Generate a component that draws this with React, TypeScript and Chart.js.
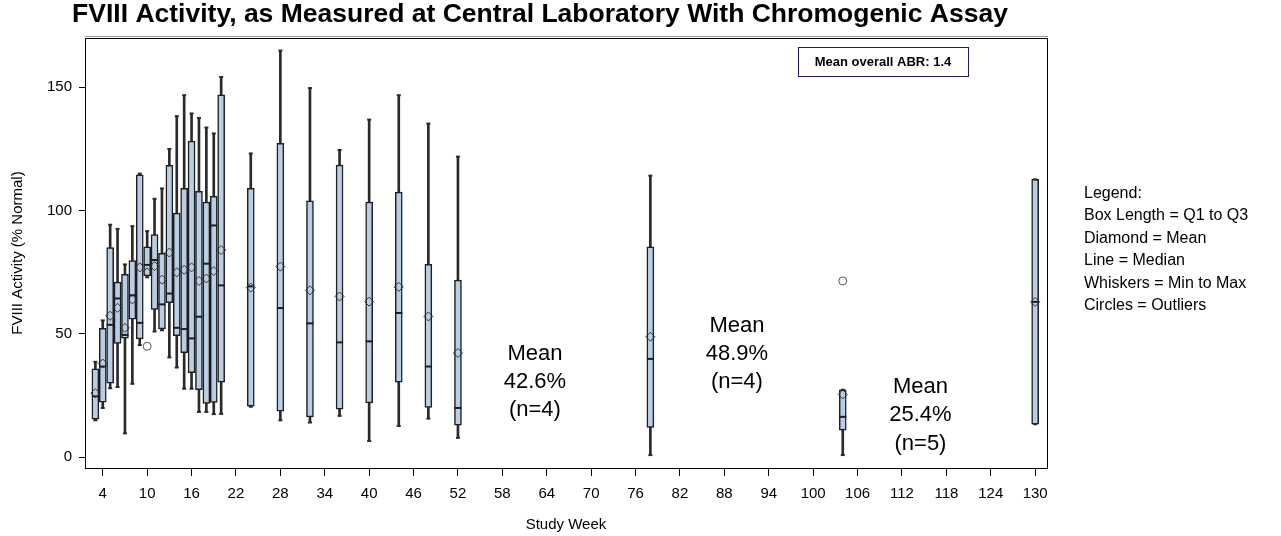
import React, { useEffect, useRef } from "react";
import { Chart, registerables } from "chart.js";

Chart.register(...registerables);

// ---------- data ----------
const weeks = [3, 4, 5, 6, 7, 8, 9, 10, 11, 12, 13, 14, 15, 16, 17, 18, 19, 20, 24, 28, 32, 36, 40, 44, 48, 52, 78, 104, 130];
const minVals = [15, 20, 28, 28.5, 9.7, 29.8, 45.5, 73, 51, 51.5, 40.5, 36.4, 27.8, 27.8, 18.4, 18.4, 17.5, 17.6, 20.5, 15, 14.1, 16.8, 6.6, 12.7, 15.7, 7.9, 0.9, 0.9, 13.4];
const q1Vals = [15.5, 22.4, 30.1, 46.2, 48.3, 56, 48, 73.5, 60, 52, 62.7, 49.3, 42.4, 34.3, 27.4, 21.8, 22.2, 30.5, 20.7, 18.7, 16.4, 19.5, 22, 30.5, 20.2, 13, 12.1, 11, 13.4];
const medianVals = [24.7, 36.8, 53.7, 64.4, 49.6, 65.7, 54.5, 78, 80, 62, 66.4, 52.5, 52, 48.2, 57, 78.5, 94, 69.7, 69.3, 60.5, 54.3, 46.6, 47, 58.5, 36.8, 20, 39.9, 16.4, 63];
const q3Vals = [35.9, 52.3, 85, 71, 74.2, 79.8, 114.5, 85.3, 90.3, 82.7, 118.4, 99, 109, 128.2, 107.8, 103.5, 105.8, 147, 109.1, 127.3, 104, 118.5, 103.5, 107.5, 78.2, 71.8, 85.3, 27.4, 112.7];
const maxVals = [38.7, 55.5, 94.3, 92.6, 78.2, 93.7, 115, 91.7, 104.8, 109, 125, 138.3, 146.8, 139.4, 137.6, 133.7, 131.3, 154.2, 123.2, 164.9, 149.7, 124.6, 136.9, 146.8, 135.3, 121.9, 114.2, 27.4, 112.7];
const meanVals = [26, 38, 57.4, 60.6, 52.5, 64, 77, 75, 77.5, 72, 83, 75, 76, 77, 71.5, 72.5, 75.5, 84, 68.8, 77.3, 67.7, 65.2, 63.1, 69.1, 57.1, 42.3, 48.9, 25.5, 63];
const outlierWeeks = [10, 104];
const outlierVals = [45, 71.5];

const xTickValues = [4, 10, 16, 22, 28, 34, 40, 46, 52, 58, 64, 70, 76, 82, 88, 94, 100, 106, 112, 118, 124, 130];
const yTickValues = [0, 50, 100, 150];

const titleText = "FVIII Activity, as Measured at Central Laboratory With Chromogenic Assay";
const xTitle = "Study Week";
const yTitle = "FVIII Activity (% Normal)";
const abrText = "Mean overall ABR: 1.4";
const legendLines = ["Legend:", "Box Length = Q1 to Q3", "Diamond = Mean", "Line = Median", "Whiskers = Min to Max", "Circles = Outliers"];

const noteLines = [
  ["Mean", "42.6%", "(n=4)"],
  ["Mean", "48.9%", "(n=4)"],
  ["Mean", "25.4%", "(n=5)"],
];
const noteWeeks = [62.4, 89.7, 114.5];
const noteValues = [31.2, 42.5, 17.7];

// ---------- styles ----------
const FONT = "'Liberation Sans', Arial, sans-serif";
const BOX_FILL = "#b9cde5";
const DARK = "#1e1e1e";

const decorPlugin = {
  id: "decor",
  afterDraw(chart: any) {
    const { ctx, chartArea } = chart;
    const { left, right, top, bottom } = chartArea;
    ctx.save();
    // frame
    ctx.strokeStyle = "#9a9a9a";
    ctx.lineWidth = 1;
    ctx.beginPath();
    ctx.moveTo(left, top - 1.5);
    ctx.lineTo(right + 1, top - 1.5);
    ctx.stroke();
    ctx.strokeStyle = "#000";
    ctx.lineWidth = 1;
    ctx.strokeRect(left + 0.5, top + 0.5, right - left, bottom - top);

    // title
    ctx.fillStyle = "#000";
    ctx.font = `bold 26.5px ${FONT}`;
    ctx.textAlign = "center";
    ctx.textBaseline = "middle";
    ctx.fillText(titleText, 540, 15);

    // ABR box
    const bx = right - 249;
    const by = top + 9;
    ctx.fillStyle = "#fff";
    ctx.fillRect(bx, by, 170, 29);
    ctx.strokeStyle = "#1a1a66";
    ctx.lineWidth = 1;
    ctx.strokeRect(bx + 0.5, by + 0.5, 170, 29);
    ctx.fillStyle = "#000";
    ctx.font = `bold 13px ${FONT}`;
    ctx.fillText(abrText, bx + 85, by + 15);

    // legend text
    ctx.textAlign = "left";
    ctx.font = `16px ${FONT}`;
    legendLines.forEach((t, i) => {
      ctx.fillText(t, right + 37, 193.5 + i * 22.4);
    });

    // mean annotations
    const xs = chart.scales.x;
    const ys = chart.scales.y;
    ctx.textAlign = "center";
    ctx.font = `22px ${FONT}`;
    noteLines.forEach((lines, k) => {
      const cx = xs.getPixelForValue(noteWeeks[k]);
      const cy = ys.getPixelForValue(noteValues[k]);
      lines.forEach((t, j) => {
        ctx.fillText(t, cx, cy + 1.5 + (j - 1) * 28.3);
      });
    });
    ctx.restore();
  },
};

export default function App() {
  const canvasRef = useRef<HTMLCanvasElement | null>(null);

  useEffect(() => {
    if (!canvasRef.current) return;
    const whiskerData = weeks.map((w, i) => ({ x: w, y: [minVals[i], maxVals[i]] }));
    const boxData = weeks.map((w, i) => ({ x: w, y: [q1Vals[i], q3Vals[i]] }));
    const capData: any[] = [];
    weeks.forEach((w, i) => {
      capData.push({ x: w, y: minVals[i] });
      capData.push({ x: w, y: maxVals[i] });
    });
    const medianData = weeks.map((w, i) => ({ x: w, y: medianVals[i] }));
    const meanData = weeks.map((w, i) => ({ x: w, y: meanVals[i] }));
    const outlierData = outlierWeeks.map((w, i) => ({ x: w, y: outlierVals[i] }));

    const chart = new Chart(canvasRef.current, {
      type: "bar",
      data: {
        datasets: [
          {
            type: "bar",
            label: "whisker",
            data: whiskerData as any,
            backgroundColor: "#2a2a2a",
            barThickness: 2,
            grouped: false,
            order: 5,
          } as any,
          {
            type: "bar",
            label: "box",
            data: boxData as any,
            backgroundColor: BOX_FILL,
            borderColor: DARK,
            borderWidth: 1.5,
            borderSkipped: false,
            barThickness: 7,
            grouped: false,
            order: 4,
          } as any,
          {
            type: "scatter",
            label: "caps",
            data: capData,
            pointStyle: "line",
            pointRadius: 2,
            pointBorderWidth: 2,
            pointBorderColor: "#2a2a2a",
            order: 3,
          } as any,
          {
            type: "scatter",
            label: "median",
            data: medianData,
            pointStyle: "line",
            pointRadius: 3.5,
            pointBorderWidth: 2,
            pointBorderColor: DARK,
            order: 2,
          } as any,
          {
            type: "scatter",
            label: "mean",
            data: meanData,
            pointStyle: "rectRot",
            pointRadius: 4.5,
            pointBorderWidth: 1,
            pointBorderColor: "#333",
            pointBackgroundColor: "rgba(0,0,0,0)",
            order: 1,
          } as any,
          {
            type: "scatter",
            label: "outliers",
            data: outlierData,
            pointStyle: "circle",
            pointRadius: 4,
            pointBorderWidth: 1,
            pointBorderColor: "#555",
            pointBackgroundColor: "#fff",
            order: 0,
          } as any,
        ],
      },
      options: {
        responsive: false,
        animation: false,
        events: [],
        layout: { padding: { left: 0, top: 38, right: 234, bottom: 0 } },
        plugins: {
          legend: { display: false },
          tooltip: { enabled: false },
          title: { display: false },
        },
        scales: {
          x: {
            type: "linear",
            min: 1.6,
            max: 131.6,
            offset: false,
            afterBuildTicks: (s: any) => {
              s.ticks = xTickValues.map((v) => ({ value: v }));
            },
            afterFit: (s: any) => {
              s.height = 68;
            },
            ticks: {
              autoSkip: false,
              maxRotation: 0,
              minRotation: 0,
              padding: 9,
              color: "#000",
              font: { family: FONT, size: 15 },
            },
            grid: { offset: false, drawOnChartArea: false, drawTicks: true, tickLength: 8, color: "#000", lineWidth: 1 },
            border: { display: true, color: "#000", width: 1 },
            title: {
              display: true,
              text: xTitle,
              color: "#000",
              font: { family: FONT, size: 15 },
              padding: { top: 0, bottom: 2 },
            },
          },
          y: {
            type: "linear",
            min: -4.34,
            max: 170,
            afterBuildTicks: (s: any) => {
              s.ticks = yTickValues.map((v) => ({ value: v }));
            },
            afterFit: (s: any) => {
              s.width = 85;
            },
            ticks: {
              padding: 7,
              color: "#000",
              font: { family: FONT, size: 15 },
            },
            grid: { drawOnChartArea: false, drawTicks: true, tickLength: 6, color: "#000", lineWidth: 1 },
            border: { display: true, color: "#000", width: 1 },
            title: {
              display: true,
              text: yTitle,
              color: "#000",
              font: { family: FONT, size: 15 },
              padding: { top: 9, bottom: 0 },
            },
          },
        },
      } as any,
      plugins: [decorPlugin],
    });
    return () => chart.destroy();
  }, []);

  return (
    <div style={{ position: "fixed", left: 0, top: 0, width: 1281, height: 536, background: "#fff" }}>
      <canvas ref={canvasRef} width={1281} height={536} style={{ display: "block" }} />
    </div>
  );
}
